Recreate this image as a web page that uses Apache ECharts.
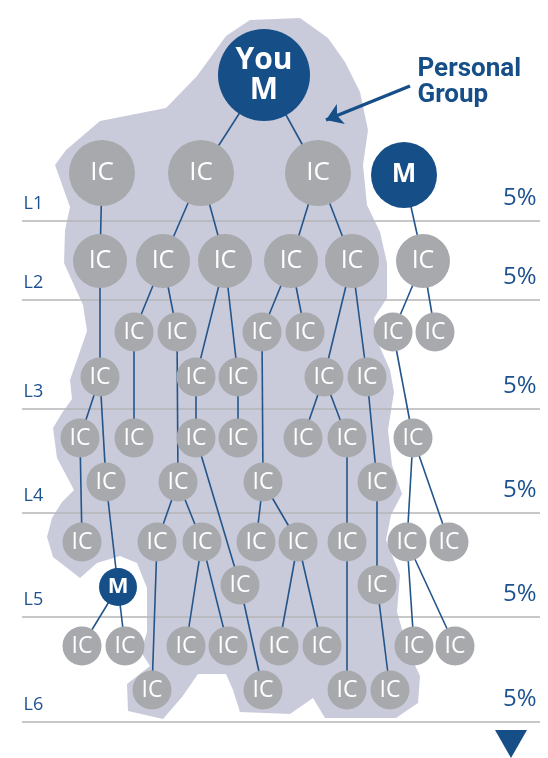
<!DOCTYPE html>
<html>
<head>
<meta charset="utf-8">
<script src="https://cdn.jsdelivr.net/npm/echarts@6/dist/echarts.min.js"></script>
<style>
  html, body { margin: 0; padding: 0; background: #fff; }
  #chart { width: 548px; height: 758px; }
</style>
</head>
<body>
<div id="chart"></div>
<script>
// diagram units = picture pixels, y grows downward
// node: [id, x, y, tier, kind]  kind: "IC" or "M"
const nodes = [
  ["you", 264, 75, 0, "M"],
  ["a1", 102, 173, 1, "IC"], ["a2", 201, 173, 1, "IC"], ["a3", 318, 173, 1, "IC"], ["m1", 404, 175, 1, "M"],
  ["b1", 100, 261, 2, "IC"], ["b2", 163, 261, 2, "IC"], ["b3", 225, 261, 2, "IC"],
  ["b4", 291, 261, 2, "IC"], ["b5", 352, 261, 2, "IC"], ["b6", 423, 261, 2, "IC"],
  ["c1", 134, 332, 3, "IC"], ["c2", 177, 332, 3, "IC"], ["c3", 262, 332, 3, "IC"],
  ["c4", 305, 332, 3, "IC"], ["c5", 393, 332, 3, "IC"], ["c6", 435, 332, 3, "IC"],
  ["d1", 100, 377, 3, "IC"], ["d2", 196, 377, 3, "IC"], ["d3", 238, 377, 3, "IC"],
  ["d4", 324, 377, 3, "IC"], ["d5", 367, 377, 3, "IC"],
  ["e1", 80, 438, 3, "IC"], ["e2", 134, 438, 3, "IC"], ["e3", 196, 438, 3, "IC"], ["e4", 238, 438, 3, "IC"],
  ["e5", 303, 438, 3, "IC"], ["e6", 347, 438, 3, "IC"], ["e7", 413, 438, 3, "IC"],
  ["f1", 106, 482, 3, "IC"], ["f2", 178, 482, 3, "IC"], ["f3", 263, 482, 3, "IC"], ["f4", 377, 482, 3, "IC"],
  ["g1", 82, 542, 3, "IC"], ["g2", 157, 542, 3, "IC"], ["g3", 202, 542, 3, "IC"], ["g4", 256, 542, 3, "IC"],
  ["g5", 298, 542, 3, "IC"], ["g6", 347, 542, 3, "IC"], ["g7", 407, 542, 3, "IC"], ["g8", 449, 542, 3, "IC"],
  ["h1", 118, 587, 4, "M"], ["h2", 240, 585, 3, "IC"], ["h3", 377, 585, 3, "IC"],
  ["i1", 82, 646, 3, "IC"], ["i2", 125, 646, 3, "IC"], ["i3", 186, 646, 3, "IC"], ["i4", 228, 646, 3, "IC"],
  ["i5", 279, 646, 3, "IC"], ["i6", 322, 646, 3, "IC"], ["i7", 414, 646, 3, "IC"], ["i8", 455, 646, 3, "IC"],
  ["j1", 152, 690, 3, "IC"], ["j2", 263, 690, 3, "IC"], ["j3", 347, 690, 3, "IC"], ["j4", 390, 690, 3, "IC"]
];

const links = [
  ["you", "a2"], ["you", "a3"], ["a1", "b1"], ["a2", "b2"], ["a2", "b3"], ["a3", "b4"], ["a3", "b5"], ["m1", "b6"],
  ["b1", "d1"], ["b2", "c1"], ["b2", "c2"], ["b3", "d2"], ["b3", "d3"], ["b4", "c3"], ["b4", "c4"],
  ["b5", "d4"], ["b5", "d5"], ["b6", "c5"], ["b6", "c6"],
  ["c1", "e2"], ["c2", "f2"], ["c3", "f3"], ["c5", "e7"],
  ["d1", "e1"], ["d1", "f1"], ["d2", "e3"], ["d3", "e4"], ["d4", "e5"], ["d4", "e6"], ["d5", "f4"],
  ["e1", "g1"], ["e3", "h2"], ["e6", "g6"], ["e7", "g7"], ["e7", "g8"],
  ["f1", "h1"], ["f2", "g2"], ["f2", "g3"], ["f3", "g4"], ["f3", "g5"], ["f4", "h3"],
  ["g2", "j1"], ["g3", "i3"], ["g3", "i4"], ["g5", "i5"], ["g5", "i6"], ["g6", "j3"], ["g7", "i7"], ["g7", "i8"],
  ["h1", "i1"], ["h1", "i2"], ["h2", "j2"], ["h3", "j4"]
];

const levelNames = ["L1", "L2", "L3", "L4", "L5", "L6"];
const levelRates = ["5%", "5%", "5%", "5%", "5%", "5%"];
const levelLineY = [221, 300, 409, 513, 617, 722];

// outline of the "Personal Group" area
const groupOutline = [
  [250, 20], [300, 18], [328, 38], [345, 62], [360, 92], [368, 130], [363, 165], [367, 205], [380, 232],
  [387, 263], [387, 298], [374, 318], [379, 345], [390, 370], [394, 392], [388, 430], [392, 465],
  [402, 494], [391, 515], [386, 540], [400, 575], [397, 612], [408, 650], [420, 676], [418, 703],
  [396, 718], [325, 718], [313, 698], [290, 714], [240, 712], [233, 690], [226, 674], [198, 674],
  [182, 697], [163, 719], [128, 711], [127, 684], [150, 666], [141, 652], [147, 632], [147, 588],
  [137, 563], [120, 556], [97, 563], [80, 578], [53, 557], [47, 537], [52, 518], [62, 502],
  [74, 490], [57, 458], [53, 428], [62, 413], [72, 399], [70, 380], [87, 331], [83, 305],
  [64, 263], [65, 230], [70, 207], [55, 165], [66, 150], [100, 121], [166, 108], [197, 76], [226, 36]
];

const calloutText = "Personal\nGroup";

const BLUE = "#164e88";
const TEXT_BLUE = "#1d5190";
const GREY = "#a7a9ac";
const SHADE = "#c9cbdb";
const tierSize = [92, 66, 54, 39, 38];
const tierFont = [30, 26, 25, 23, 22];

const byId = {};
nodes.forEach((n) => (byId[n[0]] = n));

function nodeItem(n) {
  return {
    value: [n[1], n[2]],
    symbolSize: tierSize[n[3]],
    label: {
      formatter: n[0] === "you" ? "You\nM" : n[4],
      fontSize: tierFont[n[3]],
      fontWeight: n[4] === "M" ? "bold" : "normal",
      lineHeight: n[0] === "you" ? 30 : undefined,
    },
  };
}

// invisible anchor for a piece of text
function textSeries(points, label) {
  return {
    type: "scatter",
    z: 5,
    silent: true,
    symbolSize: 1,
    itemStyle: { color: "rgba(0,0,0,0)", opacity: 1 },
    label: Object.assign({ show: true, distance: 0, fontFamily: "Open Sans" }, label),
    data: points,
  };
}

const chartDom = document.getElementById("chart");
const myChart = echarts.init(chartDom);

const option = {
  animation: false,
  grid: { left: 0, right: 0, top: 0, bottom: 0 },
  xAxis: { type: "value", min: 0, max: 548, show: false },
  yAxis: { type: "value", min: 0, max: 758, inverse: true, show: false },
  series: [
    {
      type: "custom",
      z: 1,
      silent: true,
      data: [0],
      renderItem: (params, api) => ({
        type: "polygon",
        shape: { points: groupOutline.map((p) => api.coord(p)) },
        style: { fill: SHADE },
      }),
    },
    {
      type: "lines",
      coordinateSystem: "cartesian2d",
      z: 2,
      silent: true,
      lineStyle: { color: "#b5b6b8", width: 1.5, opacity: 1 },
      data: levelLineY.map((y) => ({ coords: [[22, y], [540, y]] })),
    },
    {
      type: "lines",
      coordinateSystem: "cartesian2d",
      z: 3,
      silent: true,
      lineStyle: { color: "#24558a", width: 1.6, opacity: 1 },
      data: links.map((l) => ({
        coords: [
          [byId[l[0]][1], byId[l[0]][2]],
          [byId[l[1]][1], byId[l[1]][2]],
        ],
      })),
    },
    {
      name: "IC",
      type: "scatter",
      z: 4,
      symbol: "circle",
      itemStyle: { color: GREY, opacity: 1 },
      label: {
        show: true,
        position: "inside",
        color: "#fff",
        fontFamily: "Open Sans",
      },
      data: nodes.filter((n) => n[4] === "IC").map(nodeItem),
    },
    {
      name: "M",
      type: "scatter",
      z: 4,
      symbol: "circle",
      itemStyle: { color: BLUE, opacity: 1 },
      label: {
        show: true,
        position: "inside",
        color: "#fff",
        fontFamily: "Open Sans",
      },
      data: nodes.filter((n) => n[4] === "M").map(nodeItem),
    },
    textSeries(
      levelLineY.map((y) => [23, y - 17]),
      {
        position: "right",
        color: TEXT_BLUE,
        fontSize: 18,
        formatter: (p) => levelNames[p.dataIndex],
      }
    ),
    textSeries(
      levelLineY.map((y) => [537, y - 23]),
      {
        position: "left",
        color: TEXT_BLUE,
        fontSize: 24,
        formatter: (p) => levelRates[p.dataIndex],
      }
    ),
    textSeries([[417, 82]], {
      position: "right",
      color: BLUE,
      fontFamily: "Roboto",
      fontWeight: "bold",
      fontSize: 26,
      lineHeight: 26,
      formatter: calloutText,
    }),
    {
      type: "lines",
      coordinateSystem: "cartesian2d",
      z: 5,
      silent: true,
      symbol: ["none", "arrow"],
      symbolSize: 16,
      lineStyle: { color: BLUE, width: 3.5, opacity: 1 },
      data: [{ coords: [[410, 86], [326, 120]] }],
    },
    {
      type: "scatter",
      z: 5,
      symbol: "triangle",
      symbolRotate: 180,
      symbolSize: [32, 28],
      itemStyle: { color: BLUE, opacity: 1 },
      data: [[511, 744]],
    },
  ],
};

myChart.setOption(option);
window.onresize = () => {
  myChart.resize();
};
</script>
</body>
</html>
